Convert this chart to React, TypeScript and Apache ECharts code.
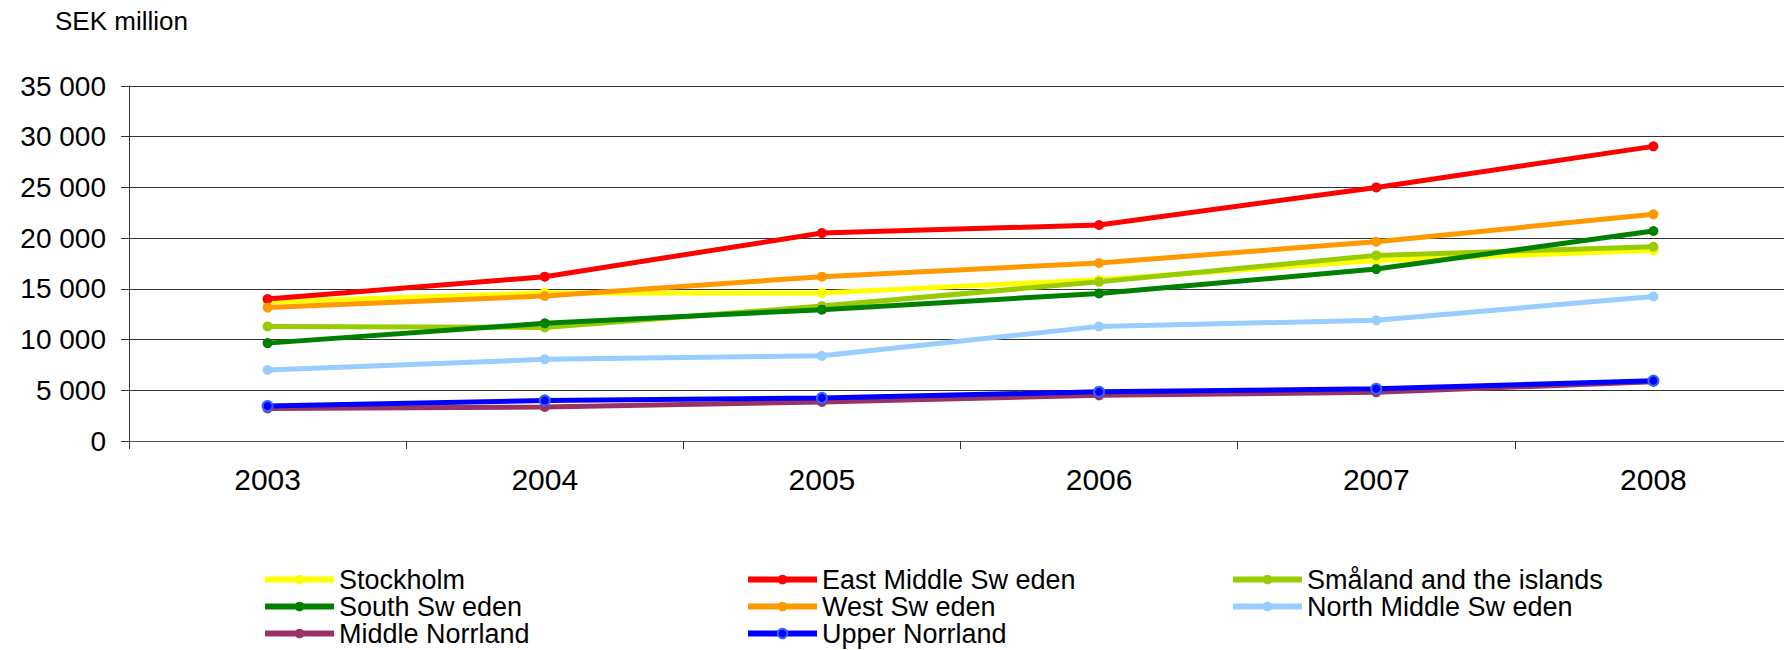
import React, { useEffect, useRef } from "react";
import * as echarts from "echarts";

const years = ["2003", "2004", "2005", "2006", "2007", "2008"];

const seriesNames = [
  "Stockholm",
  "East Middle Sw eden",
  "Småland and the islands",
  "South Sw eden",
  "West Sw eden",
  "North Middle Sw eden",
  "Middle Norrland",
  "Upper Norrland",
];

const stockholm = [13700, 14600, 14600, 15900, 17800, 18800];
const eastMiddle = [14000, 16200, 20500, 21300, 25000, 29050];
const smaland = [11300, 11200, 13300, 15700, 18300, 19150];
const south = [9650, 11600, 12950, 14550, 16950, 20700];
const west = [13150, 14300, 16200, 17550, 19650, 22350];
const northMiddle = [7000, 8050, 8400, 11300, 11900, 14250];
const middleNorrland = [3200, 3350, 3850, 4500, 4800, 5850];
const upperNorrland = [3450, 4000, 4250, 4850, 5150, 5950];

const seriesValues = [
  stockholm,
  eastMiddle,
  smaland,
  south,
  west,
  northMiddle,
  middleNorrland,
  upperNorrland,
];

const colors = [
  "#FFFF00",
  "#FF0000",
  "#99CC00",
  "#008000",
  "#FF9900",
  "#99CCFF",
  "#993366",
  "#0000FF",
];

const legendColumns = [
  ["Stockholm", "South Sw eden", "Middle Norrland"],
  ["East Middle Sw eden", "West Sw eden", "Upper Norrland"],
  ["Småland and the islands", "North Middle Sw eden"],
];
const legendLefts = [262, 745, 1230];

const yMin = 0;
const yMax = 35000;
const yInterval = 5000;
const unitLabel = "SEK million";

const FONT = "'Liberation Sans', Arial, sans-serif";

function fmt(v: number): string {
  return String(v).replace(/\B(?=(\d{3})+(?!\d))/g, " ");
}

export default function App() {
  const ref = useRef<HTMLDivElement>(null);

  useEffect(() => {
    document.body.style.margin = "0";
    if (!ref.current) return;
    const chart = echarts.init(ref.current, undefined, { renderer: "svg" });

    const series = seriesNames.map((name, i) => ({
      name,
      type: "line",
      data: seriesValues[i],
      symbol: "circle",
      symbolSize: 10,
      showSymbol: true,
      lineStyle: { color: colors[i], width: 5 },
      itemStyle:
        name === "Upper Norrland"
          ? { color: "#0000FF", borderColor: "#3366FF", borderWidth: 2 }
          : { color: colors[i] },
      emphasis: { disabled: true },
    }));

    chart.setOption({
      animation: false,
      backgroundColor: "#ffffff",
      textStyle: { fontFamily: FONT },
      title: {
        text: unitLabel,
        left: 55,
        top: 8,
        padding: 0,
        textStyle: {
          fontFamily: FONT,
          fontSize: 26,
          fontWeight: "normal",
          color: "#000",
        },
      },
      legend: legendColumns.map((col, i) => ({
        data: col,
        orient: "vertical",
        left: legendLefts[i],
        top: 566,
        width: 480,
        height: 200,
        padding: 0,
        itemGap: 0,
        itemWidth: 69,
        itemHeight: 12,
        selectedMode: false,
        lineStyle: { width: 6 },
        textStyle: {
          fontFamily: FONT,
          fontSize: 27,
          lineHeight: 26.5,
          color: "#000",
        },
      })),
      grid: {
        left: 129,
        right: 8,
        top: 86,
        bottom: 209,
        containLabel: false,
      },
      xAxis: {
        type: "category",
        data: years,
        boundaryGap: true,
        axisLine: { show: true, lineStyle: { color: "#555", width: 1 } },
        axisTick: {
          show: true,
          length: 8,
          alignWithLabel: false,
          lineStyle: { color: "#333" },
        },
        axisLabel: {
          fontFamily: FONT,
          fontSize: 30,
          color: "#000",
          margin: 23,
        },
        splitLine: { show: false },
      },
      yAxis: {
        type: "value",
        min: yMin,
        max: yMax,
        interval: yInterval,
        axisLine: { show: true, lineStyle: { color: "#333", width: 1 } },
        axisTick: { show: true, length: 8, lineStyle: { color: "#333" } },
        axisLabel: {
          fontFamily: FONT,
          fontSize: 28,
          color: "#000",
          margin: 23,
          formatter: (v: number) => fmt(v),
        },
        splitLine: { show: true, lineStyle: { color: "#333", width: 1 } },
      },
      series,
    });

    return () => {
      chart.dispose();
    };
  }, []);

  return (
    <div style={{ width: 1784, height: 650, overflow: "hidden", position: "relative" }}>
      <div ref={ref} style={{ width: 1800, height: 650 }} />
    </div>
  );
}
